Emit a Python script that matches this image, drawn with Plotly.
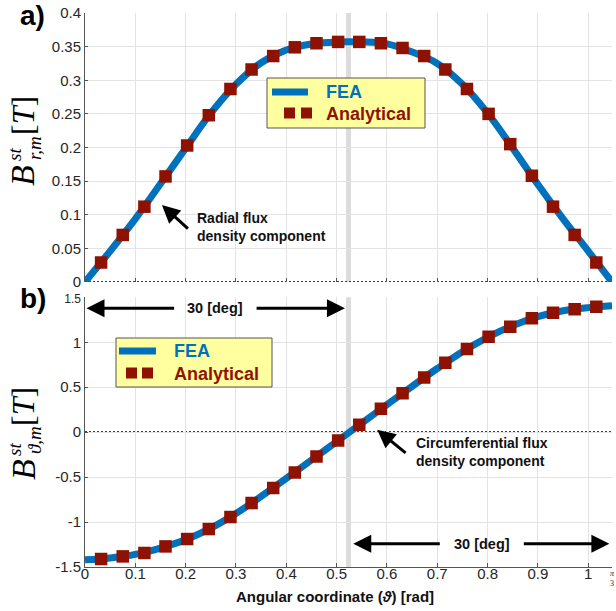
import math
import plotly.graph_objects as go
from plotly.subplots import make_subplots

# ---------------- data ----------------
theta_an = [0.032, 0.075, 0.118, 0.160, 0.203, 0.246, 0.289, 0.331, 0.374, 0.417, 0.460, 0.503,
            0.545, 0.588, 0.631, 0.674, 0.716, 0.759, 0.802, 0.845, 0.888, 0.930, 0.973, 1.016]
Br_an = [0.029, 0.070, 0.112, 0.157, 0.203, 0.248, 0.287, 0.316, 0.336, 0.349, 0.355, 0.357,
         0.357, 0.355, 0.348, 0.336, 0.316, 0.287, 0.250, 0.205, 0.158, 0.112, 0.070, 0.029]
Bt_an = [-1.411, -1.382, -1.344, -1.271, -1.189, -1.078, -0.944, -0.789, -0.622, -0.449, -0.271, -0.093,
         0.081, 0.259, 0.433, 0.607, 0.773, 0.926, 1.062, 1.173, 1.267, 1.329, 1.367, 1.396]

theta_fea = [0.0, 0.05, 0.10, 0.15, 0.20, 0.25, 0.30, 0.35, 0.40, 0.45, 0.50, 0.55,
             0.60, 0.65, 0.70, 0.75, 0.80, 0.85, 0.90, 0.95, 1.00, math.pi / 3]
Br_fea = [0.0, 0.046, 0.094, 0.146, 0.199, 0.251, 0.294, 0.326, 0.345, 0.354, 0.357, 0.357,
          0.354, 0.342, 0.325, 0.294, 0.251, 0.199, 0.145, 0.094, 0.046, 0.0]
Bt_fea = [-1.420, -1.399, -1.360, -1.289, -1.197, -1.068, -0.905, -0.715, -0.515, -0.310, -0.105, 0.100,
          0.306, 0.510, 0.708, 0.895, 1.055, 1.185, 1.285, 1.350, 1.385, 1.405]

x_tickvals = [0, 0.1, 0.2, 0.3, 0.4, 0.5, 0.6, 0.7, 0.8, 0.9, 1.0, math.pi / 3]
x_ticktext = ["0", "0.1", "0.2", "0.3", "0.4", "0.5", "0.6", "0.7", "0.8", "0.9", "1", ""]
yr_tickvals = [0, 0.05, 0.1, 0.15, 0.2, 0.25, 0.3, 0.35, 0.4]
yr_ticktext = ["0", "0.05", "0.1", "0.15", "0.2", "0.25", "0.3", "0.35", "0.4"]
yt_tickvals = [-1.5, -1, -0.5, 0, 0.5, 1, 1.5]
yt_ticktext = ["-1.5", "-1", "-0.5", "0", "0.5", "1", "<span style='font-size:12px'>1.5</span>"]

# ---------------- layout geometry ----------------
W, H = 616, 611
ML, MR, MT, MB = 85, 4, 13, 44
PW, PH = W - ML - MR, H - MT - MB


def px(xp):
    return (xp - ML) / PW


def py(yp):
    return (H - MB - yp) / PH


BLUE = "#0072BD"
RED = "#8F1200"
FONT = "Liberation Sans, Arial, Helvetica, sans-serif"
SERIF = "Liberation Serif, Times New Roman, serif"
GRID = "#E3E3E3"

fig = make_subplots(rows=2, cols=1, shared_xaxes=False, vertical_spacing=0.0)
fig.update_layout(
    yaxis=dict(domain=[py(282), 1.0]),
    yaxis2=dict(domain=[0.0, py(297.3)]),
)

fig.add_trace(go.Scatter(x=theta_fea, y=Br_fea, mode="lines", line=dict(color=BLUE, width=7, shape="spline"),
                         name="FEA", showlegend=False), row=1, col=1)
fig.add_trace(go.Scatter(x=theta_an, y=Br_an, mode="markers",
                         marker=dict(symbol="square", size=12.5, color=RED, line=dict(width=0)),
                         name="Analytical", showlegend=False), row=1, col=1)
fig.add_trace(go.Scatter(x=theta_fea, y=Bt_fea, mode="lines", line=dict(color=BLUE, width=7, shape="spline"),
                         name="FEA", showlegend=False), row=2, col=1)
fig.add_trace(go.Scatter(x=theta_an, y=Bt_an, mode="markers",
                         marker=dict(symbol="square", size=12.5, color=RED, line=dict(width=0)),
                         name="Analytical", showlegend=False), row=2, col=1)

xcommon = dict(range=[0, math.pi / 3], tickvals=x_tickvals, ticktext=x_ticktext,
               showgrid=True, gridcolor=GRID, gridwidth=1, zeroline=False,
               ticks="inside", ticklen=4, tickcolor="#555555", tickwidth=1,
               tickfont=dict(family=FONT, size=15, color="#262626"))
fig.update_xaxes(**xcommon)
fig.update_xaxes(showline=False, showticklabels=False, row=1, col=1)
fig.update_xaxes(showline=True, linecolor="#555555", linewidth=1, ticklabelstandoff=-7, row=2, col=1)

ycommon = dict(showgrid=True, gridcolor=GRID, gridwidth=1, zeroline=False,
               showline=True, linecolor="#555555", linewidth=1,
               ticks="inside", ticklen=3, tickcolor="#555555",
               tickfont=dict(family=FONT, size=15, color="#262626"))
fig.update_yaxes(**ycommon)
fig.update_yaxes(range=[0, 0.4], tickvals=yr_tickvals, ticktext=yr_ticktext, row=1, col=1)
fig.update_yaxes(range=[-1.5, 1.5], tickvals=yt_tickvals, ticktext=yt_ticktext, row=2, col=1)

shapes = []
# grey vertical line at pi/6 and dotted zero lines
for xr, yr in (("x", "y"), ("x2", "y2")):
    shapes.append(dict(type="line", xref=xr, yref=yr + " domain", x0=math.pi / 6, x1=math.pi / 6, y0=0, y1=1,
                       line=dict(color="#DCDCDC", width=5), layer="below"))
    shapes.append(dict(type="line", xref=xr, yref=yr, x0=0, x1=math.pi / 3, y0=0, y1=0,
                       line=dict(color="#000000", width=1.6, dash="2px,2px"), layer="below"))


def legend_box(x0, y0, x1, y1, line_y, line_x0, line_x1, sq_y, sq_x, text_x, fea_y, an_y):
    out_shapes = [
        dict(type="rect", xref="paper", yref="paper", x0=px(x0), x1=px(x1), y0=py(y1), y1=py(y0),
             fillcolor="#FFFFA0", line=dict(color="#555555", width=1), layer="above"),
        dict(type="line", xref="paper", yref="paper", x0=px(line_x0), x1=px(line_x1), y0=py(line_y), y1=py(line_y),
             line=dict(color=BLUE, width=7), layer="above"),
    ]
    for cx in sq_x:
        out_shapes.append(dict(type="rect", xref="paper", yref="paper", x0=px(cx - 5.5), x1=px(cx + 5.5),
                               y0=py(sq_y + 5.5), y1=py(sq_y - 5.5), fillcolor=RED, line=dict(width=0),
                               layer="above"))
    out_ann = [
        dict(xref="paper", yref="paper", x=px(text_x), y=py(fea_y), xanchor="left", yanchor="middle",
             text="<b>FEA</b>", showarrow=False, font=dict(family=FONT, size=18, color=BLUE)),
        dict(xref="paper", yref="paper", x=px(text_x), y=py(an_y), xanchor="left", yanchor="middle",
             text="<b>Analytical</b>", showarrow=False, font=dict(family=FONT, size=18, color=RED)),
    ]
    return out_shapes, out_ann


annotations = []
s, a = legend_box(267, 78, 425, 128, 92, 272, 308, 113, [289.5, 306.5], 324, 92, 114)
shapes += s
annotations += a
s, a = legend_box(116, 338, 272, 387, 351, 119, 156, 373, [131.5, 147.5], 172, 351, 374)
shapes += s
annotations += a

ARW = dict(arrowhead=2, arrowsize=1.2, arrowwidth=3, arrowcolor="#000000", showarrow=True, text="")
TXT = dict(family=FONT, size=14, color="#111111")

# radial annotation
annotations.append(dict(xref="x", yref="y", x=0.1528, y=0.1145, axref="x", ayref="y", ax=0.2075, ay=0.0773, **ARW))
annotations.append(dict(xref="x", yref="y", x=0.219, y=0.082, xanchor="left", yanchor="middle", align="left",
                        text="<b>Radial flux<br>density component</b>", showarrow=False, font=TXT))
# circumferential annotation
annotations.append(dict(xref="x2", yref="y2", x=0.5806, y=0.026, axref="x2", ayref="y2", ax=0.640, ay=-0.244, **ARW))
annotations.append(dict(xref="x2", yref="y2", x=0.654, y=-0.219, xanchor="left", yanchor="middle", align="left",
                        text="<b>Circumferential flux<br>density component</b>", showarrow=False, font=TXT))

# 30 deg double arrows
for (yv, lt, le, tc, rs, rt) in ((1.378, 0.003, 0.180, 0.258, 0.338, 0.5165),
                                 (-1.241, 0.533, 0.708, 0.789, 0.869, 1.042)):
    annotations.append(dict(xref="x2", yref="y2", x=lt, y=yv, axref="x2", ayref="y2", ax=le, ay=yv, **ARW))
    annotations.append(dict(xref="x2", yref="y2", x=rt, y=yv, axref="x2", ayref="y2", ax=rs, ay=yv, **ARW))
    annotations.append(dict(xref="x2", yref="y2", x=tc, y=yv, xanchor="center", yanchor="middle",
                            text="<b>30 [deg]</b>", showarrow=False, font=dict(family=FONT, size=14.5, color="#111111")))

# panel labels
annotations.append(dict(xref="paper", yref="paper", x=px(32), y=py(15), xanchor="center", yanchor="middle",
                        text="<b>a)</b>", showarrow=False, font=dict(family=FONT, size=28, color="#000000")))
annotations.append(dict(xref="paper", yref="paper", x=px(33), y=py(298), xanchor="center", yanchor="middle",
                        text="<b>b)</b>", showarrow=False, font=dict(family=FONT, size=28, color="#000000")))

# x axis title
annotations.append(dict(xref="paper", yref="paper", x=px(335), y=py(596), xanchor="center", yanchor="middle",
                        text="<b>Angular coordinate (<i>ϑ</i>) [rad]</b>", showarrow=False,
                        font=dict(family=FONT, size=15, color="#111111")))
# pi/3 tick label
annotations.append(dict(xref="paper", yref="paper", x=px(612), y=py(578), xanchor="center", yanchor="middle",
                        text="<i>π</i><br>3", showarrow=False, font=dict(family=SERIF, size=8, color="#262626")))


# y axis titles (rotated pieces)
def ytitle(cb, csup, csub, cbr, sub_text):
    items = [
        (23, cb, "<i>B</i>", 34),
        (14, csup, "<i>st</i>", 19),
        (34, csub, "<i>" + sub_text + "</i>", 19),
        (23, cbr, "[<i>T</i>]", 32),
    ]
    out = []
    for xx, yy, t, sz in items:
        out.append(dict(xref="paper", yref="paper", x=px(xx), y=py(yy), xanchor="center", yanchor="middle",
                        text=t, textangle=-90, showarrow=False, font=dict(family=SERIF, size=sz, color="#000000")))
    return out


annotations += ytitle(176, 155, 148, 116, "r,m")
annotations += ytitle(470, 450, 440, 407, "ϑ,m")

fig.update_layout(
    width=W, height=H, margin=dict(l=ML, r=MR, t=MT, b=MB),
    paper_bgcolor="white", plot_bgcolor="white",
    shapes=shapes, annotations=annotations, showlegend=False,
)

fig.write_html("out.html")
